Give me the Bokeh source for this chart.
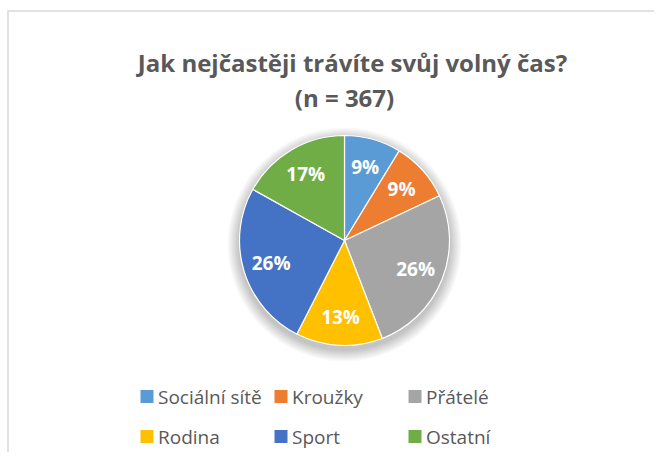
import numpy as np
from bokeh.plotting import figure
from bokeh.models import Range1d
from bokeh.core.properties import value
from bokeh.embed import file_html
from bokeh.resources import INLINE

# ---- data ----
title_lines = ["Jak nejčastěji trávíte svůj volný čas?", "(n = 367)"]
categories = ["Sociální sítě", "Kroužky", "Přátelé", "Rodina", "Sport", "Ostatní"]
counts = [32, 34, 96, 49, 94, 62]
colors = ["#5B9BD5", "#ED7D31", "#A5A5A5", "#FFC000", "#4472C4", "#70AD47"]

W, H = 654, 452
FONT = "Open Sans"

p = figure(width=W, height=H, output_backend="svg", toolbar_location=None,
           x_range=Range1d(0, W), y_range=Range1d(0, H), min_border=0)
p.axis.visible = False
p.grid.visible = False
p.outline_line_color = None
p.background_fill_color = "white"
p.border_fill_color = "white"


def py(img_y):
    # convert picture pixel y into data y
    return H - img_y


# chart border (light gray)
p.line(x=[7.5, 7.5, W], y=[0, py(10.5), py(10.5)], line_color="#D9D9D9", line_width=1.5)

# title
p.text(x=[352, 344], y=[py(62), py(97)], text=title_lines, text_font=value(FONT),
       text_font_style="bold", text_font_size="24px", text_color="#595959",
       text_align="center", text_baseline="middle")

# pie
cx, cy, R = 344, py(240), 105
vals = np.array(counts, dtype=float)
frac = vals / vals.sum()
cum = np.concatenate([[0], np.cumsum(frac)])
start = np.pi / 2 - 2 * np.pi * cum[:-1]
end = np.pi / 2 - 2 * np.pi * cum[1:]

# soft shadow
for k in range(12, 0, -1):
    p.circle(x=[cx], y=[cy - 4], radius=R + k, fill_color="black", fill_alpha=0.02,
             line_color=None)

p.wedge(x=cx, y=cy, radius=R, start_angle=start, end_angle=end, direction="clock",
        fill_color=colors, line_color="white", line_width=1.2)

mid = (start + end) / 2
lr = 0.73 * R
lx = cx + lr * np.cos(mid)
ly = cy + lr * np.sin(mid)
labels = [f"{round(f * 100):.0f}%" for f in frac]
p.text(x=lx, y=ly, text=labels, text_font=value(FONT), text_font_style="bold",
       text_font_size="19px", text_color="white", text_align="center", text_baseline="middle")

# legend (3 columns x 2 rows)
col_x = [146.5, 280.5, 414.5]
row_y = [396, 436]
idx = np.arange(len(categories))
sx = [col_x[i % 3] for i in idx]
sy = [py(row_y[i // 3]) for i in idx]
p.scatter(x=sx, y=sy, marker="square", size=13, fill_color=colors, line_color=None)
p.text(x=[s + 11 for s in sx], y=sy, text=categories, text_font=value(FONT),
       text_font_size="19px", text_color="#595959", text_align="left", text_baseline="middle")

open("out.html", "w").write(file_html(p, INLINE))
